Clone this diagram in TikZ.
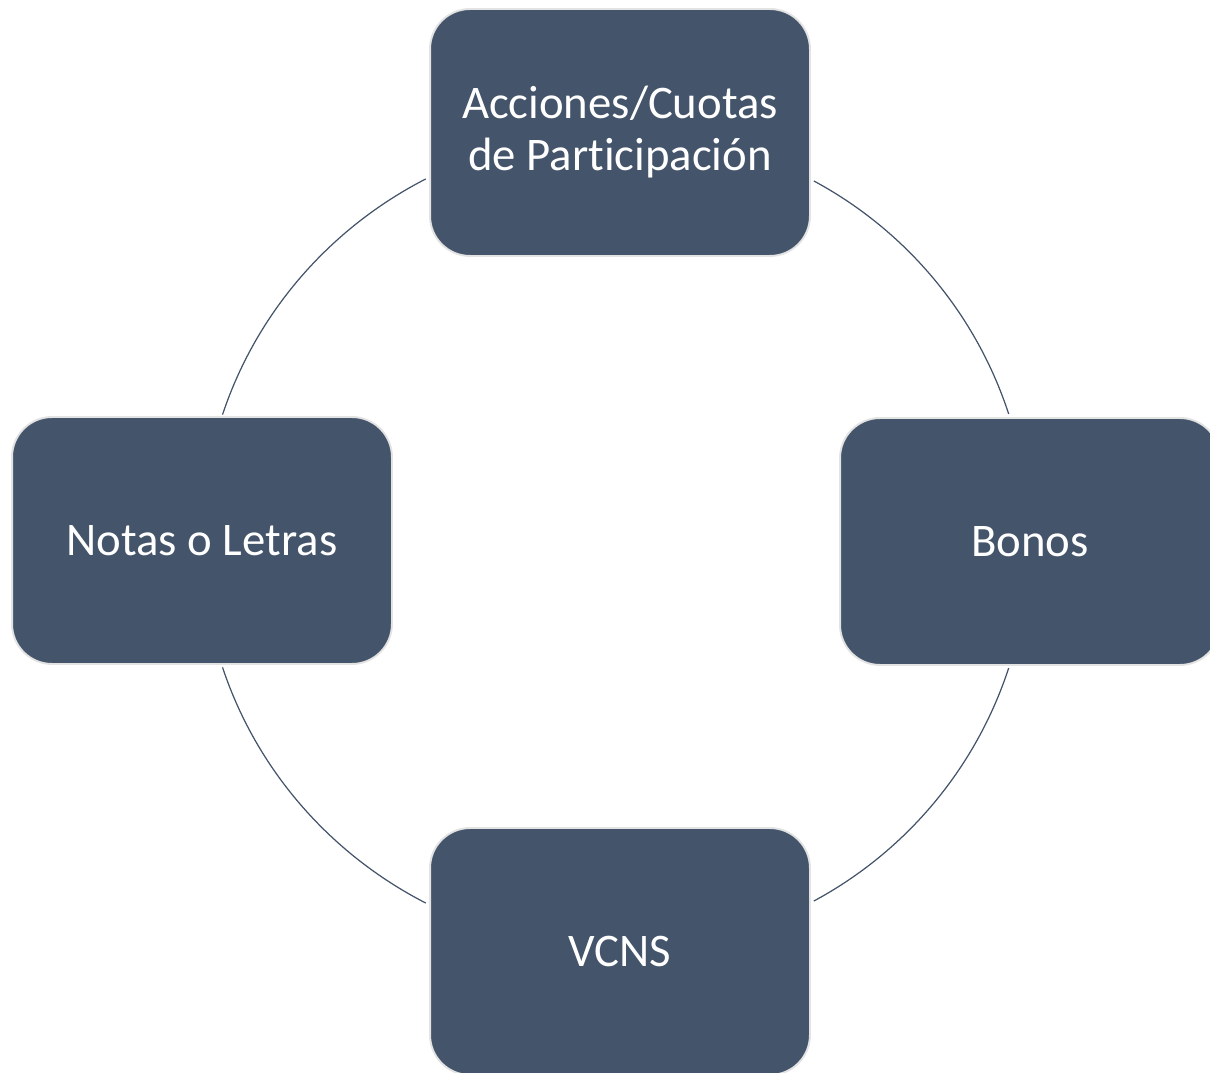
\documentclass[tikz,border=0pt]{standalone}
\usepackage{fontspec}
\setmainfont[Ligatures=CommonOff]{Carlito}
\usetikzlibrary{calc}
\definecolor{boxfill}{HTML}{44546A}
\definecolor{boxedge}{HTML}{E3E3E3}
\definecolor{ringcol}{HTML}{44546A}
\tikzset{
  itembox/.style={draw=boxedge, line width=1.1pt, fill=boxfill, rounded corners=0.8cm,
    minimum width=7.6cm, minimum height=4.94cm, inner sep=0pt, text=white,
    font=\fontsize{26.6}{29.6}\selectfont, align=center},
  ring/.style={draw=ringcol, line width=0.7pt}
}
\begin{document}
\begin{tikzpicture}[x=0.02cm,y=0.02cm]
\useasboundingbox (0,0) rectangle (1210,1072);
\clip (0,0) rectangle (1210,1072);
\coordinate (C) at (620,531);
% arcs
\path (C) ++(61.7:8.18cm) coordinate (tr1);
\path (C) ++(-18.1:8.18cm) coordinate (br1);
\path (C) ++(117.7:8.36cm and 8.18cm) coordinate (tl1);
\path (C) ++(-162:8.36cm and 8.18cm) coordinate (bl1);
\draw[ring] (tr1) arc[start angle=61.7, end angle=18.1, radius=8.18cm];
\draw[ring] (br1) arc[start angle=-18.1, end angle=-61.7, radius=8.18cm];
\draw[ring] (tl1) arc[start angle=117.7, end angle=162, x radius=8.36cm, y radius=8.18cm];
\draw[ring] (bl1) arc[start angle=-162, end angle=-117.7, x radius=8.36cm, y radius=8.18cm];
% boxes
\node[itembox] (top) at (620,939.5) {Acciones/Cuotas\\de Participación};
\node[itembox] (right) at (1030,530.5) {Bonos};
\node[itembox] (bottom) at (620,120.5) {VCNS};
\node[itembox] (left) at (202,531.5) {Notas o Letras};
\end{tikzpicture}
\end{document}
